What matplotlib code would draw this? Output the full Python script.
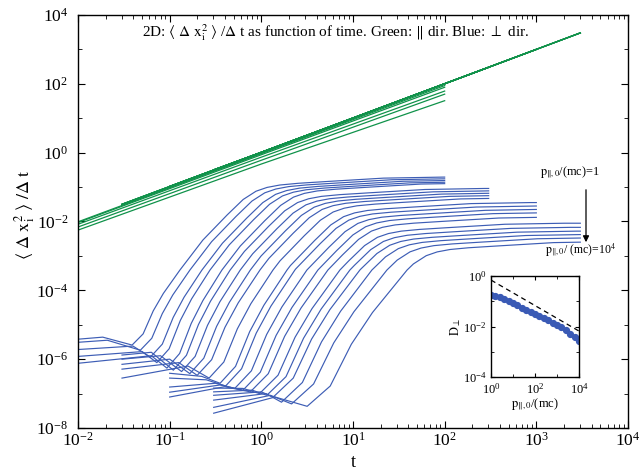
import numpy as np
import matplotlib
matplotlib.use("Agg")
import matplotlib.pyplot as plt
from matplotlib.ticker import LogFormatterMathtext, NullFormatter, FixedLocator

plt.rcParams['font.family'] = ['Liberation Serif', 'DejaVu Serif']
plt.rcParams['mathtext.fontset'] = 'stix'

# ---------------- data (log10 values) ----------------
# p_par0/(mc) exponents of the 21 runs
log_p = [0.0, 0.2, 0.4, 0.6, 0.8, 1.0, 1.2, 1.4, 1.6, 1.8, 2.0,
         2.2, 2.4, 2.6, 2.8, 3.0, 3.2, 3.4, 3.6, 3.8, 4.0]
# inset: D_perp
log_D_perp = [-0.75, -0.78, -0.84, -0.92, -1.00, -1.08, -1.16, -1.25, -1.33, -1.42, -1.50,
              -1.60, -1.68, -1.76, -1.85, -1.93, -2.02, -2.15, -2.30, -2.43, -2.57]
dash_p = [1.0, 1.0e4]
dash_D = [0.69, 0.0066]

# time windows of the runs (log10 t)
start_log_t = [-2.0] * 5 + [-1.52] * 5 + [-1.0] * 5 + [-0.52] * 6
end_log_t = [2.0] * 5 + [2.48] * 5 + [3.0] * 5 + [3.48] * 6

# blue (perpendicular) curves
start_level = [-5.42, -5.51, -5.72, -5.92, -6.12,
               -5.88, -6.00, -6.15, -6.29, -6.55,
               -6.41, -6.55, -6.81, -6.96, -7.10,
               -6.84, -6.95, -7.05, -7.19, -7.40, -7.57]
hump_log_t = [-1.73, -1.68, -1.40, -1.30, -1.20,
              -1.20, -1.10, -1.00, -0.90, -0.80,
              -0.65, -0.60, -0.50, -0.45, -0.40,
              -0.20, -0.10, 0.00, 0.05, 0.10, 0.15]
hump_level = [-5.36, -5.45, -5.62, -5.78, -5.90,
              -5.80, -5.90, -6.00, -6.10, -6.20,
              -6.50, -6.60, -6.70, -6.75, -6.80,
              -6.85, -6.90, -6.95, -7.00, -7.05, -7.10]
dip_log_t = [-1.41, -1.32, -1.21, -1.14, -1.03,
             -0.96, -0.87, -0.78, -0.70, -0.57,
             -0.45, -0.39, -0.29, -0.20, -0.12,
             -0.02, 0.06, 0.13, 0.22, 0.33, 0.50]
dip_level = [-5.59, -5.74, -5.94, -6.10, -6.26,
             -6.32, -6.36, -6.42, -6.47, -6.55,
             -6.70, -6.78, -6.85, -6.90, -6.95,
             -7.00, -7.05, -7.10, -7.25, -7.30, -7.37]
# log10 t where each curve crosses 10^-3.41
rise_log_t = [-0.888, -0.779, -0.648, -0.560, -0.430,
              -0.340, -0.230, -0.120, -0.015, 0.127,
              0.280, 0.366, 0.497, 0.617, 0.726,
              0.857, 0.966, 1.075, 1.206, 1.370, 1.590]
rise_level = -3.41
# level at the end of each run
end_level = [-0.71, -0.76, -0.81, -0.86, -0.90,
             -1.04, -1.11, -1.18, -1.25, -1.33,
             -1.45, -1.55, -1.65, -1.75, -1.88,
             -2.05, -2.17, -2.28, -2.38, -2.48, -2.60]
# top curve, lower part (dip -> crossing) and upper part (crossing -> end)
low_t = [-1.41, -1.29, -1.18, -1.07, -0.89]
low_y = [-5.56, -5.24, -4.58, -4.08, -3.41]
up_t = [-0.89, -0.64, -0.375, -0.20, -0.06, 0.06, 0.20, 0.40, 0.70, 1.33, 1.98]
up_y = [-3.41, -2.54, -1.81, -1.36, -1.12, -1.01, -0.94, -0.89, -0.84, -0.74, -0.71]

# green (parallel) curves: offset of log10 y from log10 t at start, t=1, end
green_off_start = [-0.25, -0.16, -0.08, -0.03, -0.01] + [0.02] * 16
green_off_mid = [-0.33, -0.22, -0.13, -0.06, -0.03] + [0.01] * 16
green_off_end = [-0.49, -0.30, -0.21, -0.10, -0.05] + [0.0] * 16

# axis ticks
x_major = [1e-2, 1e-1, 1e0, 1e1, 1e2, 1e3, 1e4]
y_major = [1e-8, 1e-6, 1e-4, 1e-2, 1e0, 1e2, 1e4]
y_minor = [1e-7, 1e-5, 1e-3, 1e-1, 1e1, 1e3]

BLUE = '#3d5db5'
GREEN = '#10924a'

# ---------------- figure ----------------
fig = plt.figure(figsize=(6.41, 4.73), dpi=100)
ax = fig.add_axes([78 / 641, 1 - 428 / 473, 550 / 641, 413 / 473])
ax.set_xscale('log')
ax.set_yscale('log')

for k in range(len(log_p)):
    t0, t1 = start_log_t[k], end_log_t[k]
    lt = [t0, 0.0, t1]
    ly = [t0 + green_off_start[k], green_off_mid[k], t1 + green_off_end[k]]
    ax.plot(10 ** np.array(lt), 10 ** np.array(ly), color=GREEN, lw=0.9)

up_t_a, up_y_a = np.array(up_t), np.array(up_y)
low_u = (np.array(low_t) - low_t[0]) / (low_t[-1] - low_t[0])
low_w = (np.array(low_y) - low_y[0]) / (low_y[-1] - low_y[0])
for k in range(len(log_p)):
    t0, t1 = start_log_t[k], end_log_t[k]
    r, td, yd = rise_log_t[k], dip_log_t[k], dip_level[k]
    # shift of the upper part so it passes through the crossing and the end level
    dy = end_level[k] - up_y[-1]
    for _ in range(8):
        dt = r - np.interp(rise_level - dy, up_y_a, up_t_a)
        dy = end_level[k] - np.interp(t1 - dt, up_t_a, up_y_a)
    dt = r - np.interp(rise_level - dy, up_y_a, up_t_a)
    lt = [t0]
    ly = [start_level[k]]
    if t0 < hump_log_t[k] < td - 0.05:
        lt.append(hump_log_t[k]); ly.append(hump_level[k])
    lt += list(td + low_u * (r - td))
    ly += list(yd + low_w * (rise_level - yd))
    sel = (up_y_a + dy > rise_level + 1e-6) & (up_t_a + dt < t1)
    lt += list(up_t_a[sel] + dt)
    ly += list(up_y_a[sel] + dy)
    lt.append(t1); ly.append(end_level[k])
    ax.plot(10 ** np.array(lt), 10 ** np.array(ly), color=BLUE, lw=0.85)

ax.set_xlim(1e-2, 1e4)
ax.set_ylim(1e-8, 1e4)
x_minor = [m * d for d in x_major[:-1] for m in range(2, 10)]
ax.xaxis.set_major_locator(FixedLocator(x_major))
ax.xaxis.set_minor_locator(FixedLocator(x_minor))
ax.xaxis.set_minor_formatter(NullFormatter())
ax.yaxis.set_major_locator(FixedLocator(y_major))
ax.yaxis.set_minor_locator(FixedLocator(y_minor))
ax.yaxis.set_minor_formatter(NullFormatter())
ax.xaxis.set_major_formatter(LogFormatterMathtext())
ax.yaxis.set_major_formatter(LogFormatterMathtext())
ax.tick_params(which='both', direction='in', top=True, right=True, labelsize=12.5)
ax.tick_params(which='major', length=5)
ax.tick_params(which='minor', length=3)
ax.tick_params(axis='y', pad=7)
ax.tick_params(axis='x', pad=2.5)
for s in ax.spines.values():
    s.set_linewidth(1.0)

fig.text(336 / 641, 1 - 33 / 473,
         r'2D: $\langle\ \Delta\ \mathrm{x}_\mathrm{i}^2\ \rangle$ /$\Delta$ t as function of time. '
         r'Green: $\Vert$ dir. Blue: $\perp$ dir.',
         ha='center', va='center', fontsize=11)
fig.text(25 / 641, 1 - 215 / 473,
         r'$\langle\ \Delta\ \mathrm{x}_\mathrm{i}^2\ \rangle\ /\Delta\ \mathrm{t}$',
         rotation=90, ha='center', va='center', fontsize=13)
fig.text(353 / 641, 1 - 462 / 473, 't', ha='center', va='center', fontsize=13)

fig.text(540 / 641, 1 - 172 / 473, r'$\mathrm{p}_{\Vert,0}$/(mc)=1', ha='left', va='center', fontsize=8.8)
fig.text(545 / 641, 1 - 250 / 473, r'$\mathrm{p}_{\Vert,0}$/ (mc)=10$^4$', ha='left', va='center', fontsize=8.5)
ax.annotate('', xy=(586 / 641, 1 - 245 / 473), xytext=(586 / 641, 1 - 187 / 473),
            xycoords='figure fraction', textcoords='figure fraction',
            arrowprops=dict(arrowstyle='-|>', color='black', lw=0.9, mutation_scale=9))

# ---------------- inset ----------------
ax2 = fig.add_axes([491 / 641, 1 - 377 / 473, 88 / 641, 101 / 473])
ax2.set_xscale('log')
ax2.set_yscale('log')
ax2.plot(dash_p, dash_D, ls='--', color='black', lw=0.9, dashes=(4, 3))
ax2.plot(10 ** np.array(log_p), 10 ** np.array(log_D_perp), 'o', color='#3a5ab5', ms=4.2, mec='#3a5ab5')
ax2.set_xlim(1, 1e4)
ax2.set_ylim(1e-4, 1)
ax2.xaxis.set_major_locator(FixedLocator([1, 1e2, 1e4]))
ax2.yaxis.set_major_locator(FixedLocator([1e-4, 1e-2, 1]))
ax2.xaxis.set_minor_locator(FixedLocator([10, 1e3]))
ax2.yaxis.set_minor_locator(FixedLocator([1e-3, 1e-1]))
ax2.xaxis.set_minor_formatter(NullFormatter())
ax2.yaxis.set_minor_formatter(NullFormatter())
ax2.xaxis.set_major_formatter(LogFormatterMathtext())
ax2.yaxis.set_major_formatter(LogFormatterMathtext())
ax2.tick_params(which='both', direction='in', top=True, right=True, labelsize=9)
ax2.tick_params(axis='x', pad=3.5)
ax2.tick_params(axis='y', pad=3)
ax2.tick_params(which='major', length=3)
ax2.tick_params(which='minor', length=2)
ax2.set_xlabel(r'$\mathrm{p}_{\Vert,0}$/(mc)', fontsize=9, labelpad=0)
ax2.set_ylabel(r'$\mathrm{D}_\perp$', fontsize=9, labelpad=0)
for s in ax2.spines.values():
    s.set_linewidth(1.0)

fig.savefig('out.png', dpi=100)
